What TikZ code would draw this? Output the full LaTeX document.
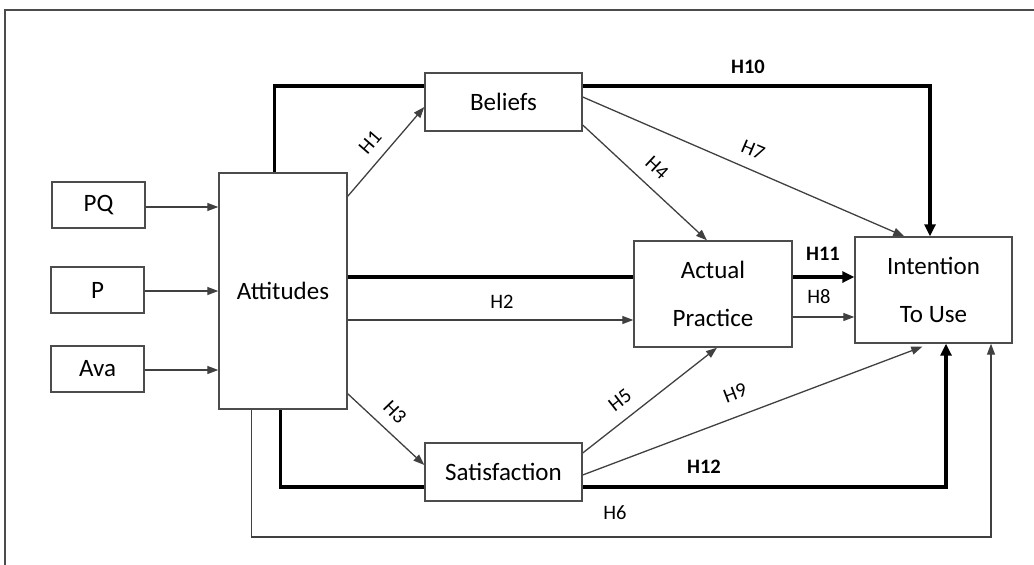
\documentclass[tikz,border=0pt]{standalone}
\usepackage{fontspec}
\setmainfont{Carlito}
\usetikzlibrary{arrows.meta,calc,backgrounds}
\begin{document}
\begin{tikzpicture}[x=1pt,y=-1pt,
 box/.style={draw=black!70,line width=1.4pt,fill=white,inner sep=0pt,font=\fontsize{25}{48}\selectfont,align=center},
 thin/.style={draw=black!75,line width=1.3pt},
 thk/.style={draw=black,line width=3.3pt},
 arr/.style={thin,-{Triangle[length=11pt,width=8pt]}},
 tarr/.style={thk,-{Triangle[length=12pt,width=11pt]}},
 lab/.style={font=\fontsize{20.5}{24}\selectfont,inner sep=0pt},
 blab/.style={font=\fontsize{20.5}{24}\selectfont\bfseries,inner sep=0pt}]
\useasboundingbox (0,0) rectangle (1034,565);
\draw[draw=black!70,line width=1.5pt] (5,570) -- (5,10) -- (1040,10);

\node[box,minimum width=93pt,minimum height=46pt] (PQ) at (98.5,205) {PQ};
\node[box,minimum width=93pt,minimum height=46pt] (P) at (97.5,290) {P};
\node[box,minimum width=93pt,minimum height=46pt] (Ava) at (97.5,369) {Ava};
\node[box,minimum width=128pt,minimum height=236pt] (Att) at (283,291) {Attitudes};
\node[box,minimum width=157pt,minimum height=58pt] (Bel) at (503.5,102) {Beliefs};
\node[box,minimum width=158pt,minimum height=106pt] (Act) at (713,294) {Actual\\Practice};
\node[box,minimum width=157pt,minimum height=106pt] (Int) at (933.5,290) {Intention\\To Use};
\node[box,minimum width=157pt,minimum height=58pt] (Sat) at (503.5,472) {Satisfaction};

\coordinate (a1) at ($(PQ.east)+(0,2)$);
\coordinate (a2) at ($(P.east)+(0,1)$);
\coordinate (a3) at ($(Ava.east)+(0,1)$);
\coordinate (s11) at ($(Att.east)+(0,-14)$);
\coordinate (e11) at ($(Act.east)+(0,-17)$);
\coordinate (s2) at ($(Att.east)+(0,29)$);
\coordinate (s8) at ($(Act.east)+(0,23)$);
\coordinate (h10) at (930,86);
\coordinate (h12) at (946,487);
\coordinate (h6) at (991,537);

\begin{pgfonlayer}{background}
\draw[arr] (a1) -- (a1 -| Att.west);
\draw[arr] (a2) -- (a2 -| Att.west);
\draw[arr] (a3) -- (a3 -| Att.west);
% H1
\draw[arr] ($(Att.north east)+(0,24)$) -- ($(Bel.west)+(0,5)$);
% H10
\draw[tarr] ($(Att.north west)+(56,0)$) |- (h10) -- (h10 |- Int.north);
% H11
\draw[thk] (s11) -- (s11 -| Act.west);
\draw[tarr] (e11) -- (e11 -| Int.west);
% H2
\draw[arr] (s2) -- (s2 -| Act.west);
% H8
\draw[arr] (s8) -- (s8 -| Int.west);
% H4
\draw[arr] ($(Bel.east)+(0,23)$) -- ($(Act.north)+(-6,0)$);
% H7
\draw[arr] ($(Bel.east)+(0,-5)$) -- ($(Int.north west)+(50,0)$);
% H3
\draw[arr] ($(Att.south east)+(0,-16)$) -- ($(Sat.west)+(0,-7)$);
% H5
\draw[arr] ($(Sat.east)+(0,-19)$) -- ($(Act.south)+(4,0)$);
% H9
\draw[arr] ($(Sat.east)+(0,3)$) -- ($(Int.south west)+(68,3)$);
% H12
\draw[tarr] ($(Att.south west)+(62,0)$) |- (h12) -- (h12 |- Int.south);
% H6
\draw[arr] ($(Att.south west)+(33,0)$) |- (h6) -- (h6 |- Int.south);
\end{pgfonlayer}

\node[lab,rotate=49] (l1) at (370,142) {H1};
\node[lab] (l2) at (502,302) {H2};
\node[lab,rotate=-46] (l3) at (395,412) {H3};
\node[lab,rotate=-43] (l4) at (657,168) {H4};
\node[lab,rotate=38] (l5) at (620,400) {H5};
\node[lab] (l6) at (615,513) {H6};
\node[lab,rotate=-23] (l7) at (753,150) {H7};
\node[lab] (l8) at (819,297) {H8};
\node[lab,rotate=21] (l9) at (735,393) {H9};
\node[blab] (l10) at (748,67) {H10};
\node[blab] (l11) at (823,254) {H11};
\node[blab] (l12) at (704,467) {H12};
\end{tikzpicture}
\end{document}
